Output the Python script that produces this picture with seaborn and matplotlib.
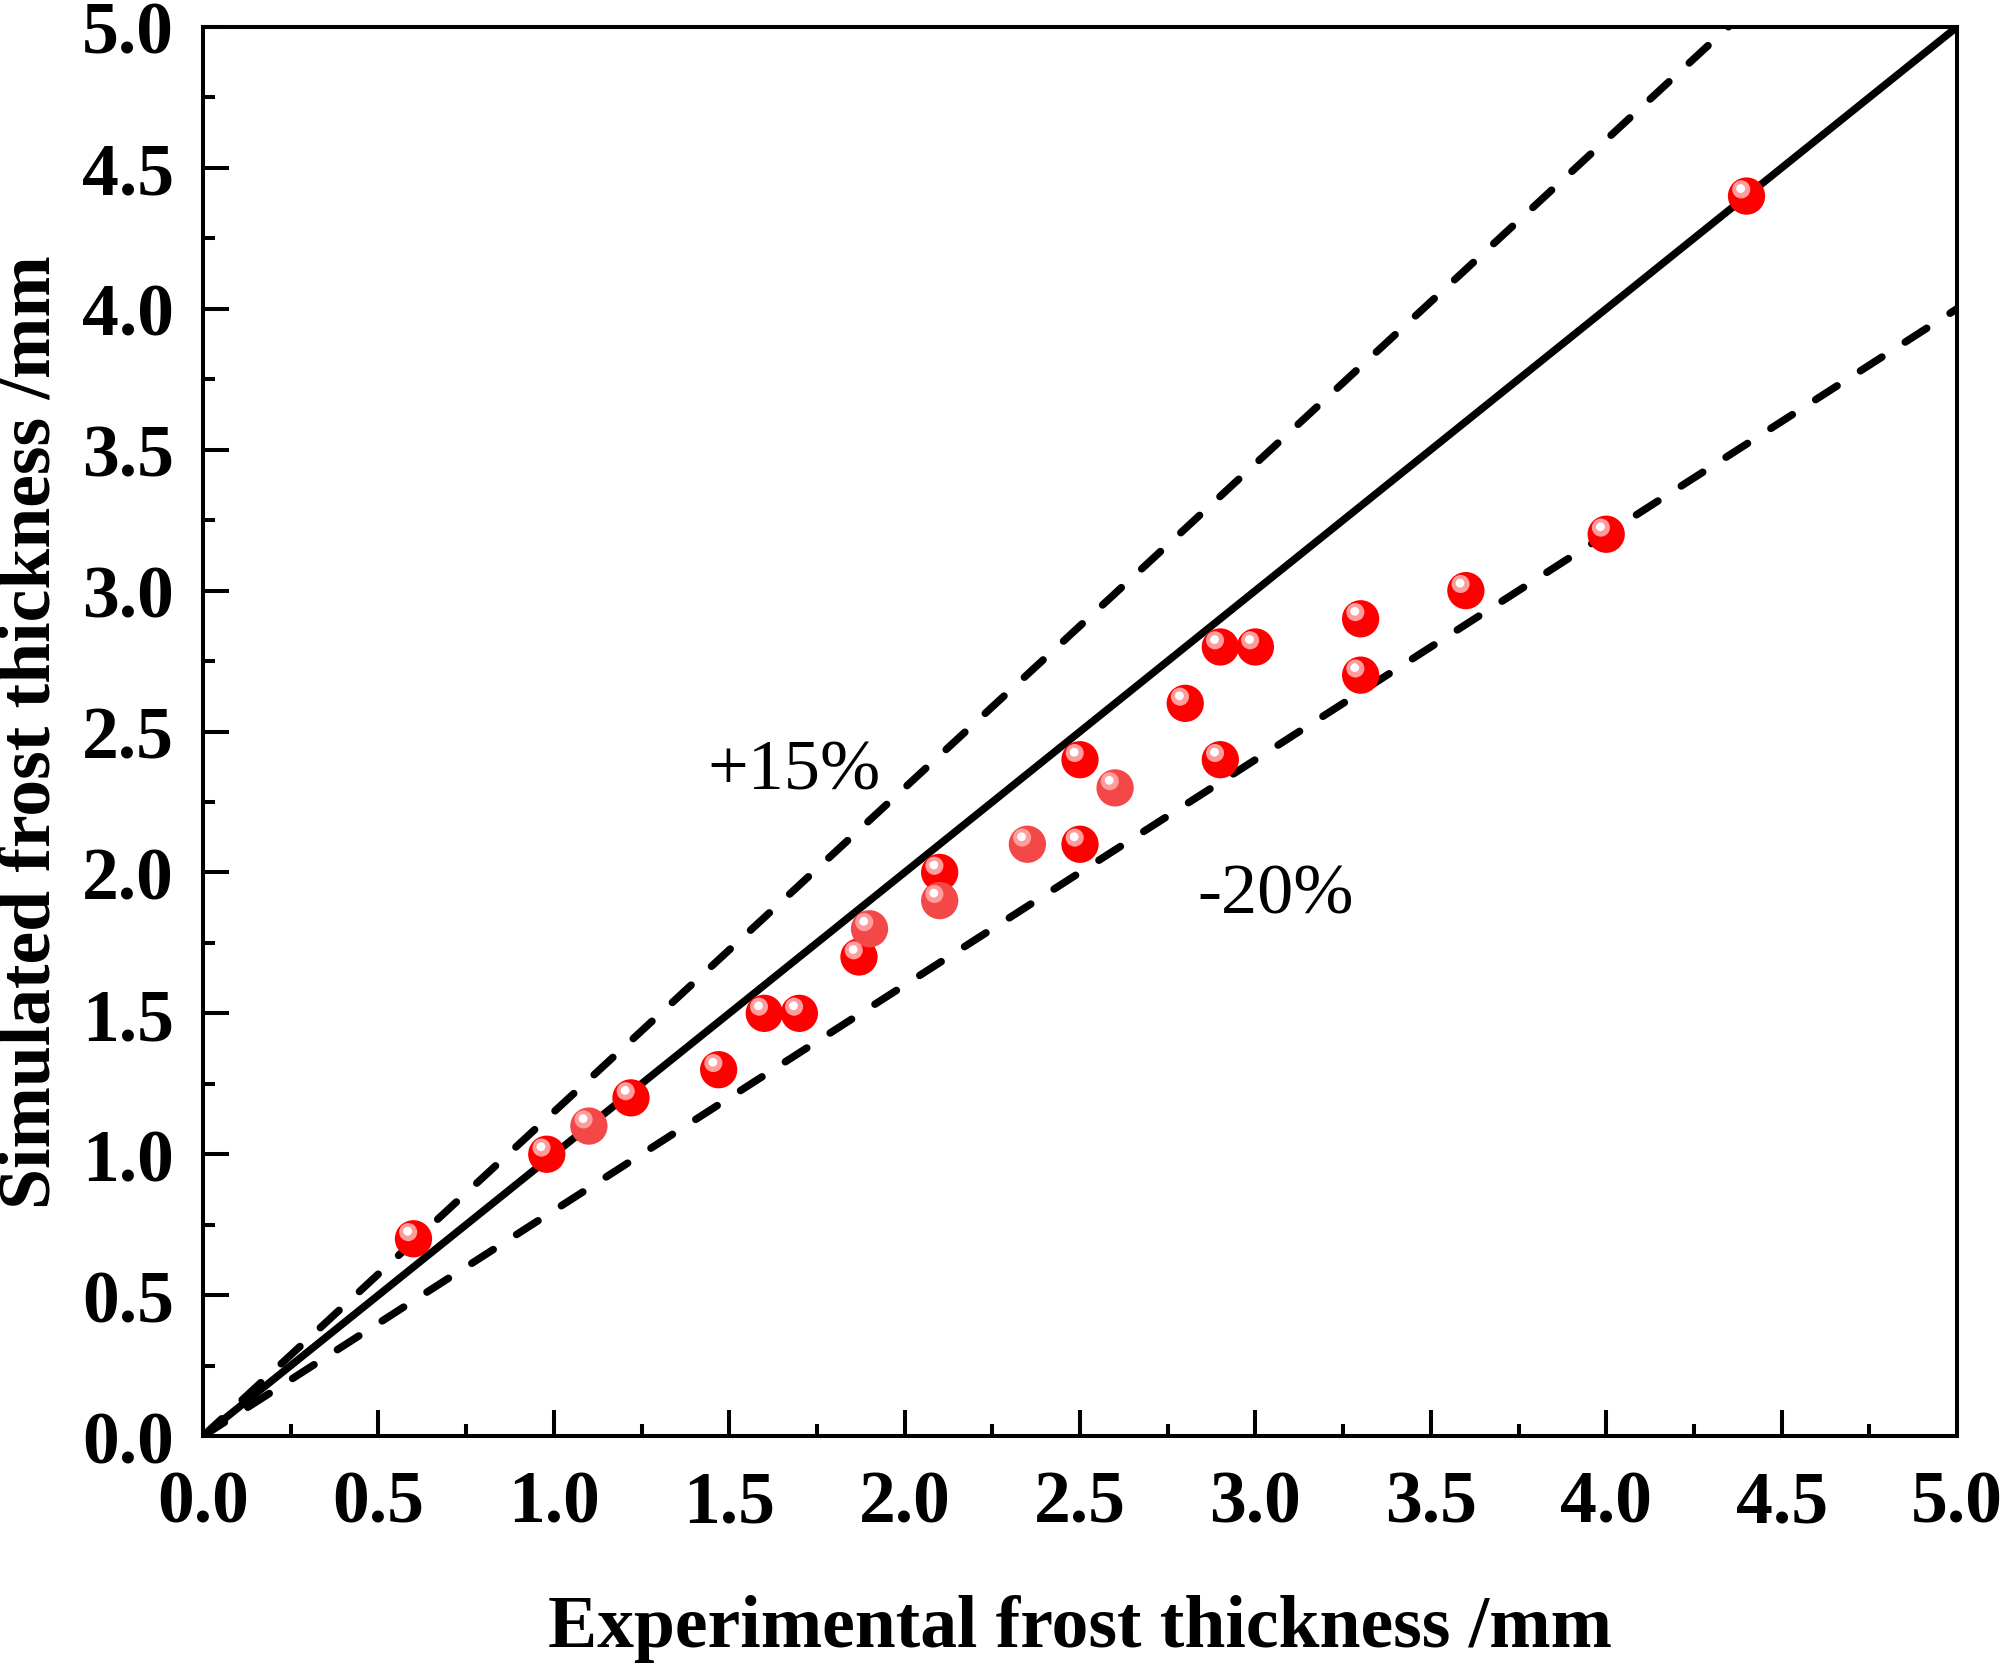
import pandas as pd
import seaborn as sns
import matplotlib.pyplot as plt
import matplotlib.transforms as mtransforms
from matplotlib.ticker import MultipleLocator

# measured (experimental) vs simulated frost thickness, mm
exp_solid = [0.6, 0.98, 1.22, 1.47, 1.6, 1.7, 1.87, 2.1, 2.5, 2.5, 2.8, 2.9, 2.9, 3.0, 3.3, 3.3, 3.6, 4.0, 4.4]
sim_solid = [0.7, 1.0, 1.2, 1.3, 1.5, 1.5, 1.7, 2.0, 2.1, 2.4, 2.6, 2.8, 2.4, 2.8, 2.9, 2.7, 3.0, 3.2, 4.4]
# lighter markers
exp_light = [1.1, 1.9, 2.1, 2.35, 2.6]
sim_light = [1.1, 1.8, 1.9, 2.1, 2.3]

# reference lines y = k * x
line_x = [0.0, 5.0]
ratio_main = 1.0
ratio_upper = 1.15
ratio_lower = 0.8

ticks = [0.0, 0.5, 1.0, 1.5, 2.0, 2.5, 3.0, 3.5, 4.0, 4.5, 5.0]

sns.set_theme(style="ticks")
plt.rcParams['font.family'] = ['Liberation Serif', 'DejaVu Serif']
plt.rcParams['axes.linewidth'] = 2.9
for key in ['text.color', 'axes.labelcolor', 'xtick.color', 'ytick.color', 'axes.edgecolor']:
    plt.rcParams[key] = 'black'

fig = plt.figure(figsize=(20, 16.65), dpi=100)
ax = fig.add_axes([0.1015, 0.1369, 0.877, 0.8463])

lines = pd.DataFrame({'x': line_x})
lines['main'] = lines['x'] * ratio_main
lines['upper'] = lines['x'] * ratio_upper
lines['lower'] = lines['x'] * ratio_lower

sns.lineplot(data=lines, x='x', y='main', ax=ax, color='black', lw=5.4, zorder=2)
for col in ['upper', 'lower']:
    sns.lineplot(data=lines, x='x', y=col, ax=ax, color='black', lw=5.4,
                 dashes=False, zorder=2)
for ln in ax.lines[1:]:
    ln.set_dashes((3.4, 3.7))
    ln.set_dash_capstyle('round')

pts = pd.DataFrame({'x': exp_solid, 'y': sim_solid})
pts_l = pd.DataFrame({'x': exp_light, 'y': sim_light})

# ball markers: body + highlight shifted up-left
shift1 = mtransforms.offset_copy(ax.transData, fig=fig, x=-3.8, y=4.8, units='points')
shift2 = mtransforms.offset_copy(ax.transData, fig=fig, x=-4.2, y=5.4, units='points')
for df, body in [(pts, '#ff0000'), (pts_l, '#f44848')]:
    sns.scatterplot(data=df, x='x', y='y', ax=ax, s=720, color=body,
                    edgecolor='none', linewidth=0, zorder=3)
    ax.scatter(df['x'], df['y'], s=170, color='#ff9c9c', edgecolor='none',
               zorder=4, transform=shift1)
    ax.scatter(df['x'], df['y'], s=40, color='white', edgecolor='none',
               zorder=5, transform=shift2)

ax.set_xlim(0, 5)
ax.set_ylim(0, 5)
ax.set_xticks(ticks)
ax.set_yticks(ticks)
ax.set_xticklabels([f'{t:.1f}' for t in ticks])
ax.set_yticklabels([f'{t:.1f}' for t in ticks])
ax.xaxis.set_minor_locator(MultipleLocator(0.25))
ax.yaxis.set_minor_locator(MultipleLocator(0.25))
ax.tick_params(which='major', direction='in', length=19, width=2.9,
               labelsize=53, top=False, right=False)
ax.tick_params(axis='x', which='major', pad=24)
ax.tick_params(axis='y', which='major', pad=21)
ax.tick_params(which='minor', direction='in', length=8.6, width=2.9,
               top=False, right=False)
for lab in ax.get_xticklabels() + ax.get_yticklabels():
    lab.set_fontweight('bold')
for sp in ax.spines.values():
    sp.set_visible(True)
    sp.set_linewidth(2.9)
    sp.set_color('black')

ax.set_xlabel('Experimental frost thickness /mm', fontsize=53, fontweight='bold', labelpad=41)
ax.set_ylabel('Simulated frost thickness /mm', fontsize=53, fontweight='bold', labelpad=12)

ax.text(1.685, 2.36, '+15%', fontsize=52, ha='center', va='center')
ax.text(3.057, 1.92, '-20%', fontsize=52, ha='center', va='center')

fig.savefig('out.png', dpi=100, facecolor='white')
